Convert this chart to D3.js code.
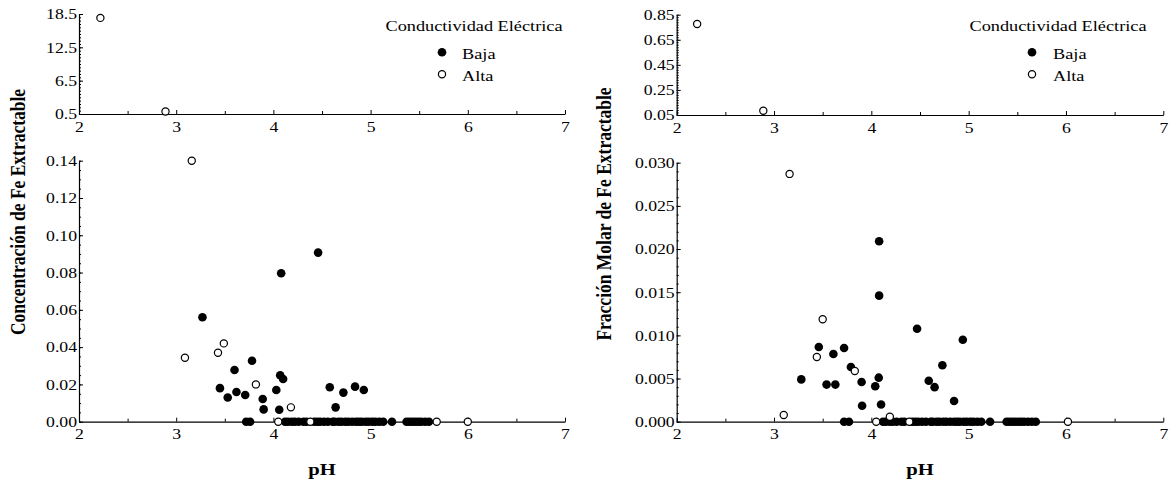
<!DOCTYPE html>
<html>
<head>
<meta charset="utf-8">
<script src="https://cdn.jsdelivr.net/npm/d3@7"></script>
<style>
  html, body { margin: 0; padding: 0; background: #fff; }
  svg { display: block; }
  text { font-family: "Liberation Serif", "Times New Roman", serif; fill: #000; }
</style>
</head>
<body>
<svg id="chart" width="1175" height="484"></svg>
<script>
// ---- Data: pH against extractable Fe, split by electrical conductivity ----
const legendTitle = "Conductividad Eléctrica";
const legendLabels = ["Baja", "Alta"];
const xTicks = [2, 3, 4, 5, 6, 7];

// Left panel: Concentración de Fe Extractable
const concTopAltaPH  = [2.22, 2.89];
const concTopAltaVal = [17.8, 0.95];
const concTopTicks   = [0.5, 6.5, 12.5, 18.5];

const concBajaPH  = [3.27, 3.45, 3.53, 3.60, 3.62, 3.71, 3.78, 3.89, 3.90, 4.03,
                     4.06, 4.07, 4.08, 4.10, 4.46, 4.58, 4.64, 4.72, 4.84, 4.93];
const concBajaVal = [0.056, 0.018, 0.013, 0.0277, 0.0159, 0.0143, 0.0327, 0.0122, 0.0066, 0.017,
                     0.0064, 0.0249, 0.0796, 0.0229, 0.0907, 0.0185, 0.0077, 0.0156, 0.0188, 0.017];
const concBajaZeroPH = [3.72, 3.76, 4.12, 4.15, 4.19, 4.22, 4.26, 4.31, 4.34, 4.42, 4.45, 4.48,
                        4.52, 4.56, 4.61, 4.63, 4.67, 4.70, 4.74, 4.77, 4.81, 4.85, 4.88, 4.91,
                        4.95, 4.98, 5.02, 5.05, 5.09, 5.13, 5.22, 5.37, 5.40, 5.43, 5.46, 5.49,
                        5.52, 5.56, 5.60];
const concAltaPH  = [3.09, 3.16, 3.43, 3.49, 3.82, 4.18];
const concAltaVal = [0.0343, 0.140, 0.037, 0.042, 0.020, 0.0077];
const concAltaZeroPH = [4.05, 4.38, 5.68, 6.00];
const concBottomTicks = [0, 0.02, 0.04, 0.06, 0.08, 0.10, 0.12, 0.14];

// Right panel: Fracción Molar de Fe Extractable
const molTopAltaPH  = [2.21, 2.89];
const molTopAltaVal = [0.776, 0.084];
const molTopTicks   = [0.05, 0.25, 0.45, 0.65, 0.85];

const molBajaPH  = [3.28, 3.46, 3.54, 3.61, 3.63, 3.72, 3.79, 3.90, 3.905, 4.04,
                    4.076, 4.08, 4.08, 4.10, 4.47, 4.59, 4.65, 4.73, 4.85, 4.94];
const molBajaVal = [0.0049, 0.00865, 0.0043, 0.00784, 0.0043, 0.00854, 0.00634, 0.0046, 0.00185, 0.0041,
                    0.0051, 0.0209, 0.0146, 0.0020, 0.01077, 0.00475, 0.0040, 0.00653, 0.0024, 0.0095];
const molBajaZeroPH = [3.72, 3.77, 4.12, 4.15, 4.19, 4.22, 4.26, 4.31, 4.34, 4.42, 4.45, 4.48,
                       4.52, 4.56, 4.61, 4.63, 4.67, 4.70, 4.74, 4.77, 4.81, 4.85, 4.88, 4.91,
                       4.95, 4.98, 5.02, 5.05, 5.09, 5.13, 5.22, 5.39, 5.42, 5.45, 5.48, 5.51,
                       5.54, 5.57, 5.61, 5.65, 5.69];
const molAltaPH  = [3.10, 3.16, 3.44, 3.50, 3.83, 4.19];
const molAltaVal = [0.00078, 0.0287, 0.0075, 0.01186, 0.00587, 0.00058];
const molAltaZeroPH = [4.05, 4.39, 6.02];
const molBottomTicks = [0, 0.005, 0.010, 0.015, 0.020, 0.025, 0.030];

// ---- Drawing ----
const svg = d3.select("#chart");
const STRETCH = 1.18;   // wide serif look for all labels
const R_FILL = 4.3, R_OPEN = 3.6;

function widen(sel) {
  sel.each(function () {
    const t = d3.select(this);
    const x = +t.attr("x") || 0;
    t.attr("x", 0).attr("transform", `translate(${x},0) scale(${STRETCH},1)`);
  });
}

function zip(a, b) { return a.map((v, i) => [v, b[i]]); }

function drawPanel(cfg) {
  const x = d3.scaleLinear().domain([2, 7]).range([cfg.x0, cfg.x1]);
  const yTop = d3.scaleLinear().domain(cfg.topDomain).range(cfg.topRange);
  const yBot = d3.scaleLinear().domain(cfg.botDomain).range(cfg.botRange);
  const g = svg.append("g");

  // x axes (upper and lower plots)
  [cfg.topRange[0], cfg.botRange[0]].forEach(yPix => {
    g.append("g").attr("transform", `translate(0,${yPix})`)
      .call(d3.axisBottom(x).tickValues(d3.range(2.5, 7, 1)).tickSize(-3).tickFormat(""))
      .call(a => a.select(".domain").remove());
    const ax = g.append("g").attr("transform", `translate(0,${yPix})`)
      .call(d3.axisBottom(x).tickValues(xTicks).tickSize(-4).tickSizeOuter(0).tickPadding(7).tickFormat(d3.format("d")));
    ax.selectAll("text").style("font-size", "15px").style("font-family", null);
    widen(ax.selectAll("text"));
  });

  // y axes
  function yAxis(scale, ticks, minorStep, fmt) {
    const [lo, hi] = scale.domain();
    const minor = d3.range(lo, hi + minorStep / 2, minorStep);
    g.append("g").attr("transform", `translate(${cfg.x0},0)`)
      .call(d3.axisLeft(scale).tickValues(minor).tickSize(-2).tickFormat(""))
      .call(a => a.select(".domain").remove());
    const ax = g.append("g").attr("transform", `translate(${cfg.x0},0)`)
      .call(d3.axisLeft(scale).tickValues(ticks).tickSize(-4).tickSizeOuter(0).tickPadding(2).tickFormat(d3.format(fmt)));
    ax.selectAll("text").style("font-size", "15px").style("font-family", null);
    widen(ax.selectAll("text"));
  }
  yAxis(yTop, cfg.topTicks, cfg.topMinor, cfg.topFmt);
  yAxis(yBot, cfg.botTicks, cfg.botMinor, cfg.botFmt);
  g.selectAll(".domain").attr("stroke", "#000").attr("stroke-width", 1.2);
  g.selectAll(".tick line").attr("stroke", "#000");

  // points: low conductivity (filled) first, high conductivity (open) on top
  const bajaPts = zip(cfg.bajaPH, cfg.bajaVal).concat(cfg.bajaZeroPH.map(p => [p, 0]));
  const altaPts = zip(cfg.altaPH, cfg.altaVal).concat(cfg.altaZeroPH.map(p => [p, 0]));
  g.append("g").selectAll("circle").data(bajaPts).join("circle")
    .attr("cx", d => x(d[0])).attr("cy", d => yBot(d[1])).attr("r", R_FILL)
    .attr("fill", "#000");
  g.append("g").selectAll("circle").data(altaPts).join("circle")
    .attr("cx", d => x(d[0])).attr("cy", d => yBot(d[1])).attr("r", R_OPEN)
    .attr("fill", "#fff").attr("stroke", "#000").attr("stroke-width", 1.2);
  g.append("g").selectAll("circle").data(zip(cfg.topPH, cfg.topVal)).join("circle")
    .attr("cx", d => x(d[0])).attr("cy", d => yTop(d[1])).attr("r", R_OPEN)
    .attr("fill", "#fff").attr("stroke", "#000").attr("stroke-width", 1.2);

  // legend
  const lg = g.append("g");
  lg.append("text").attr("x", cfg.legendCx).attr("y", 31.5)
    .attr("text-anchor", "middle").style("font-size", "15.5px").text(legendTitle)
    .attr("transform", `translate(${cfg.legendCx},0) scale(${STRETCH},1) translate(${-cfg.legendCx},0)`);
  const rows = [52.3, 74.3];
  lg.append("circle").attr("cx", cfg.legendMx).attr("cy", rows[0]).attr("r", R_FILL).attr("fill", "#000");
  lg.append("circle").attr("cx", cfg.legendMx).attr("cy", rows[1]).attr("r", R_OPEN)
    .attr("fill", "#fff").attr("stroke", "#000").attr("stroke-width", 1.2);
  legendLabels.forEach((lab, i) => {
    lg.append("text").attr("y", rows[i] + 6.5).style("font-size", "15.5px").text(lab)
      .attr("transform", `translate(${cfg.legendTx},0) scale(${STRETCH},1)`);
  });

  // axis titles
  g.append("text").attr("text-anchor", "middle").style("font-size", "17.5px").style("font-weight", "bold")
    .attr("transform", `translate(${cfg.titleX},${cfg.titleY}) rotate(-90) scale(1,${STRETCH})`)
    .text(cfg.yTitle);
  g.append("text").attr("text-anchor", "middle").style("font-size", "17.5px").style("font-weight", "bold")
    .attr("transform", `translate(${(cfg.x0 + cfg.x1) / 2},475) scale(${STRETCH},1)`)
    .text("pH");
}

drawPanel({
  x0: 79, x1: 565,
  topDomain: [0.5, 18.5], topRange: [114, 14], topTicks: concTopTicks, topMinor: 0.6, topFmt: ".1f",
  botDomain: [0, 0.14], botRange: [421.7, 160.7], botTicks: concBottomTicks, botMinor: 0.005, botFmt: ".2f",
  topPH: concTopAltaPH, topVal: concTopAltaVal,
  bajaPH: concBajaPH, bajaVal: concBajaVal, bajaZeroPH: concBajaZeroPH,
  altaPH: concAltaPH, altaVal: concAltaVal, altaZeroPH: concAltaZeroPH,
  legendCx: 474, legendMx: 442, legendTx: 462,
  titleX: 25, titleY: 212, yTitle: "Concentración de Fe Extractable"
});

drawPanel({
  x0: 676.7, x1: 1163.3,
  topDomain: [0.05, 0.85], topRange: [115, 14.7], topTicks: molTopTicks, topMinor: 0.02, topFmt: ".2f",
  botDomain: [0, 0.030], botRange: [421.7, 162.7], botTicks: molBottomTicks, botMinor: 0.001, botFmt: ".3f",
  topPH: molTopAltaPH, topVal: molTopAltaVal,
  bajaPH: molBajaPH, bajaVal: molBajaVal, bajaZeroPH: molBajaZeroPH,
  altaPH: molAltaPH, altaVal: molAltaVal, altaZeroPH: molAltaZeroPH,
  legendCx: 1058, legendMx: 1032, legendTx: 1053,
  titleX: 611, titleY: 214, yTitle: "Fracción Molar de Fe Extractable"
});
</script>
</body>
</html>
